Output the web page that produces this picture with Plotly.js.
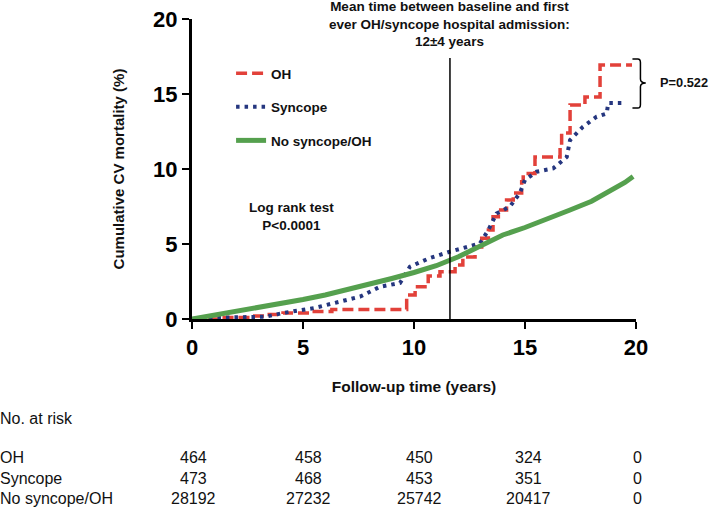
<!DOCTYPE html>
<html>
<head>
<meta charset="utf-8">
<script src="https://cdn.plot.ly/plotly-3.0.1.min.js"></script>
<style>html,body{margin:0;padding:0;background:#fff;}#chart{width:710px;height:508px;}</style>
</head>
<body>
<div id="chart"></div>
<script>
// ---- data ----
var ohX = [0, 1.3, 2.6, 3.4, 4.1, 5.3, 6.3, 9.67, 10.05, 10.64, 11.17, 11.85, 12.2, 12.75, 13.05, 13.35, 13.56, 13.8, 14.17, 14.47, 14.85, 14.92, 15.45, 16.58, 16.65, 17.03, 17.7, 18.38, 19.82];
var ohY = [0, 0.1, 0.2, 0.3, 0.4, 0.5, 0.64, 1.6, 2.15, 2.87, 3.15, 3.6, 4.13, 4.8, 5.38, 5.93, 6.82, 7.27, 7.93, 8.4, 9.15, 9.7, 10.8, 11.6, 12.4, 14.27, 14.8, 16.93, 16.93];

var syncX = [0, 1.5, 3.3, 4.1, 5.5, 6.67, 7.57, 8.47, 9.37, 9.82, 10.72, 11.62, 12.37, 12.97, 13.35, 13.72, 14.32, 14.77, 15.0, 15.52, 16.27, 16.88, 17.03, 17.6, 18.23, 18.68, 18.75, 19.4];
var syncY = [0, 0.1, 0.15, 0.4, 0.73, 1.15, 1.49, 2.15, 2.4, 3.49, 4.07, 4.49, 4.8, 5.04, 5.93, 7.04, 7.49, 8.4, 9.27, 9.82, 10.04, 10.8, 11.93, 12.8, 13.49, 13.7, 14.4, 14.4];

var noneX = [0, 1, 2, 3, 4, 5, 6, 7, 8, 9, 10, 11, 12, 13, 14, 15, 16, 17, 18, 19, 19.5, 19.87];
var noneY = [0, 0.25, 0.5, 0.75, 1.0, 1.3, 1.6, 1.95, 2.3, 2.7, 3.1, 3.55, 4.15, 4.9, 5.6, 6.1, 6.65, 7.25, 7.85, 8.65, 9.1, 9.5];

var seriesNames = ["OH", "Syncope", "No syncope/OH"];
var riskTimes = [0, 5, 10, 15, 20];
var riskOH = [464, 458, 450, 324, 0];
var riskSyncope = [473, 468, 453, 351, 0];
var riskNone = [28192, 27232, 25742, 20417, 0];
var meanAdmission = 11.62;
var pCompare = "P=0.522";
var logRank = "Log rank test<br>P<0.0001";

// ---- styling ----
var FONT = "Liberation Sans, Arial, sans-serif";
var RED = "#e2413a", BLUE = "#25367f", GREEN = "#55a04e";

var traces = [
  {x: ohX, y: ohY, name: seriesNames[0], legendgroup: "a", mode: "lines", line: {shape: "hv", color: RED, width: 3.5, dash: "11px,5px"}},
  {x: syncX, y: syncY, name: seriesNames[1], legendgroup: "b", mode: "lines", line: {shape: "linear", color: BLUE, width: 4, dash: "3.5px,5px"}},
  {x: noneX, y: noneY, name: seriesNames[2], legendgroup: "c", mode: "lines", line: {shape: "linear", color: GREEN, width: 5}}
];

var annotations = [
  {xref: "paper", yref: "paper", x: 0.581, y: 0.982, xanchor: "center", yanchor: "middle", showarrow: false,
   text: "Mean time between baseline and first<br>ever OH/syncope hospital admission:<br>12±4 years",
   font: {family: FONT, size: 13.5, color: "#111", weight: "bold"}},
  {xref: "paper", yref: "paper", x: 0.223, y: 0.343, xanchor: "center", yanchor: "middle", showarrow: false,
   text: logRank, font: {family: FONT, size: 13.5, color: "#111", weight: "bold"}},
  {xref: "paper", yref: "paper", x: 1.05, y: 0.787, xanchor: "left", yanchor: "middle", showarrow: false,
   text: pCompare, font: {family: FONT, size: 12.8, color: "#111", weight: "bold"}},
  {xref: "paper", yref: "paper", x: -0.437, y: -0.33, xanchor: "left", yanchor: "middle", showarrow: false,
   text: "No. at risk", font: {family: FONT, size: 16, color: "#111"}}
];

var rows = [[seriesNames[0], riskOH, -0.463], [seriesNames[1], riskSyncope, -0.53], [seriesNames[2], riskNone, -0.597]];
var colShift = [1, 5, 5, 3, 1];
rows.forEach(function (r) {
  annotations.push({xref: "paper", yref: "paper", x: -0.437, y: r[2], xanchor: "left", yanchor: "middle", showarrow: false,
    text: r[0], font: {family: FONT, size: 16, color: "#111"}});
  riskTimes.forEach(function (t, i) {
    annotations.push({xref: "x", yref: "paper", x: t, xshift: colShift[i], y: r[2], xanchor: "center", yanchor: "middle", showarrow: false,
      text: String(r[1][i]), font: {family: FONT, size: 16, color: "#111"}});
  });
});

var shapes = [
  {type: "line", xref: "x", yref: "y", x0: meanAdmission, x1: meanAdmission, y0: 0, y1: 17.4, line: {color: "#000", width: 1.5}},
  {type: "path", xref: "paper", yref: "paper",
   path: "M0.992,0.867 L1.004,0.867 Q1.010,0.867 1.010,0.855 L1.010,0.800 Q1.010,0.787 1.022,0.787 Q1.010,0.787 1.010,0.774 L1.010,0.715 Q1.010,0.703 1.004,0.703 L0.992,0.703",
   line: {color: "#000", width: 1.5}}
];

var layout = {
  width: 710, height: 508,
  margin: {l: 192, r: 74, t: 19, b: 189},
  paper_bgcolor: "#fff", plot_bgcolor: "#fff",
  font: {family: FONT, color: "#111"},
  showlegend: true,
  legend: {x: 0.088, y: 0.87, xanchor: "left", yanchor: "top", bgcolor: "rgba(0,0,0,0)",
           font: {family: FONT, size: 13.5, color: "#111", weight: "bold"}, tracegroupgap: 13, traceorder: "grouped"},
  xaxis: {range: [0, 20], tickvals: riskTimes, showgrid: false, zeroline: false,
          showline: true, linecolor: "#000", linewidth: 3, ticks: "outside", ticklen: 7, tickwidth: 2.5, tickcolor: "#000",
          tickfont: {family: FONT, size: 22, color: "#000", weight: "bold"},
          title: {text: "\u00A0\u00A0\u00A0\u00A0\u00A0\u00A0\u00A0Follow-up time (years)", standoff: 22,
                  font: {family: FONT, size: 15.5, color: "#111", weight: "bold"}}},
  yaxis: {range: [0, 20], tickvals: [0, 5, 10, 15, 20], showgrid: false, zeroline: false,
          showline: true, linecolor: "#000", linewidth: 3, ticks: "outside", ticklen: 7, tickwidth: 2.5, tickcolor: "#000",
          tickfont: {family: FONT, size: 22, color: "#000", weight: "bold"},
          title: {text: "Cumulative CV mortality (%)\u00A0\u00A0\u00A0\u00A0\u00A0\u00A0", standoff: 25,
                  font: {family: FONT, size: 15, color: "#111", weight: "bold"}}},
  annotations: annotations,
  shapes: shapes
};

Plotly.newPlot("chart", traces, layout, {displayModeBar: false, staticPlot: true});
</script>
</body>
</html>
